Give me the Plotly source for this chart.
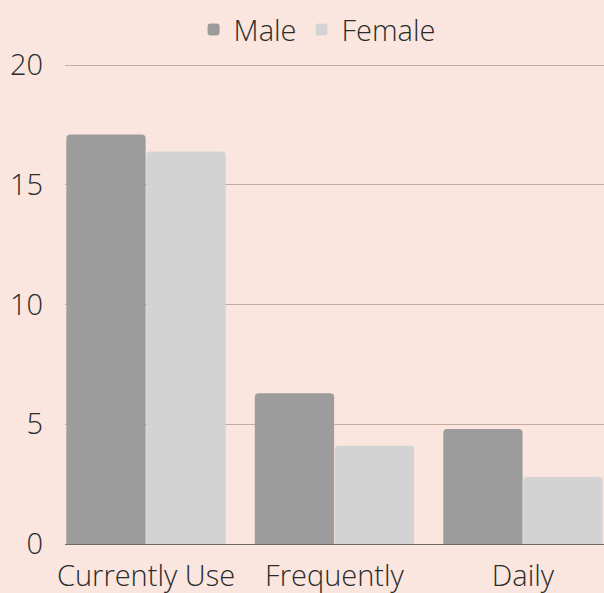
import plotly.graph_objects as go

categories = ["Currently Use", "Frequently", "Daily"]
male = [17.1, 6.3, 4.8]
female = [16.4, 4.1, 2.8]
y_ticks = [0, 5, 10, 15, 20]

BG = "#FAE6DE"
FONT = dict(family="Open Sans", size=29, color="#2b2b2b", weight=300)

fig = go.Figure()
fig.add_trace(go.Bar(name="Male", x=categories, y=male, marker=dict(color="#9c9c9c", line=dict(width=0))))
fig.add_trace(go.Bar(name="Female", x=categories, y=female, marker=dict(color="#d3d3d3", line=dict(width=0))))

fig.update_layout(
    width=604, height=593,
    paper_bgcolor=BG, plot_bgcolor=BG,
    font=FONT,
    barmode="group", bargap=0.15, bargroupgap=0.01, barcornerradius=4,
    margin=dict(l=65, r=0, t=64, b=49, autoexpand=False),
    showlegend=True,
    legend=dict(orientation="h", xref="container", yref="container", x=0.525, y=0.95,
                xanchor="center", yanchor="middle", font=FONT, bgcolor="rgba(0,0,0,0)",
                itemwidth=30),
    xaxis=dict(range=[-0.43, 2.43], showgrid=False, zeroline=False, showline=False,
               ticks="", tickfont=FONT, ticklabelstandoff=12),
    yaxis=dict(range=[0, 20.05], tickvals=y_ticks, showgrid=True, gridcolor="#c4aca3", gridwidth=1,
               zeroline=True, zerolinecolor="#6f6a68", zerolinewidth=1, showline=False,
               ticks="", tickfont=FONT, ticklabelstandoff=21),
)

fig.write_html("out.html", config={"displayModeBar": False},
               post_script="document.body.style.margin='0px';document.body.style.overflow='hidden';")
